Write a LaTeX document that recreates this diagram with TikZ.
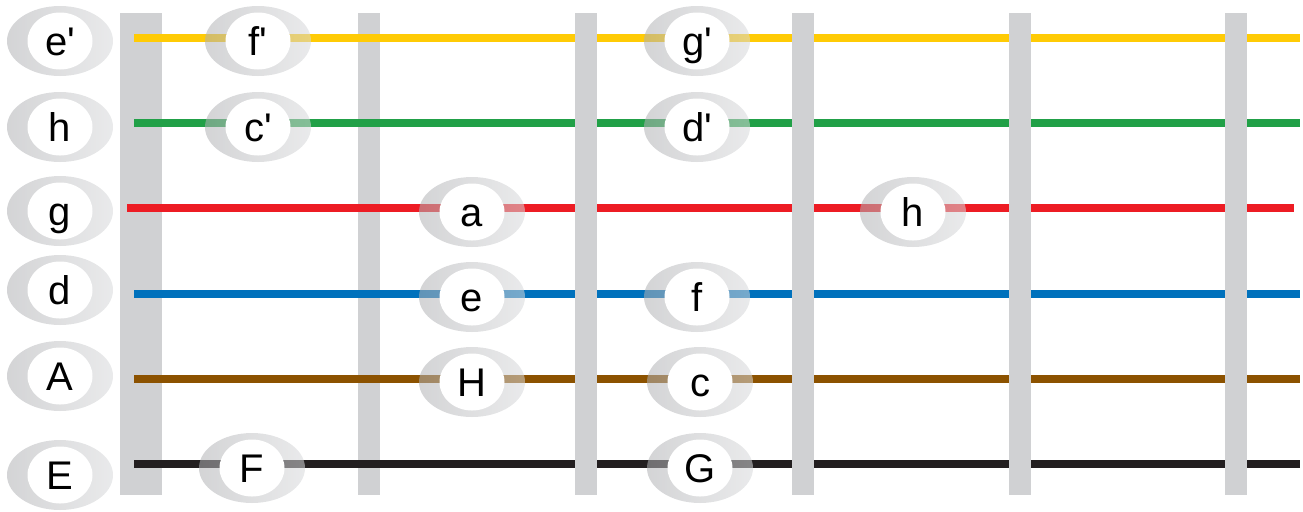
\documentclass[tikz,border=0pt]{standalone}
\usepackage{fontspec}
\setmainfont{Liberation Sans}
\usetikzlibrary{shapes.geometric}

\definecolor{fretgray}{HTML}{D0D1D3}
\definecolor{notedark}{HTML}{B0B1B4}
\definecolor{notelight}{HTML}{D8D9DB}
\definecolor{stryellow}{HTML}{FFCB05}
\definecolor{strgreen}{HTML}{21A047}
\definecolor{strred}{HTML}{ED1C24}
\definecolor{strblue}{HTML}{0071BC}
\definecolor{strbrown}{HTML}{8C5200}
\definecolor{strblack}{HTML}{231F20}

\begin{document}
\begin{tikzpicture}
      [%%%%%%%%%%%%%%%%%%%%%%%%%%%%%%
          x=0.5pt, y=-0.5pt,
          fret/.style={fill=fretgray},
          string/.style={line width=4pt},
          note/.style={ellipse, minimum width=53pt, minimum height=35pt, inner sep=0pt,
              left color=notedark, right color=notelight, fill opacity=.55, text opacity=1,
              path picture={\fill[white,fill opacity=1] (path picture bounding box.center)
                  ellipse (16.25pt and 14.25pt);},
              font=\fontsize{20}{20}\selectfont, text height=14.3pt, text depth=0pt}
      ]%%%%%%%%%%%%%%%%%%%%%%%%%%%%%%

  \useasboundingbox (0,0) rectangle (1303,511);

  % nut and first fret lie under the strings
  \fill[fret] (120,13) rectangle (162,495);
  \fill[fret] (358,13) rectangle (380,495);

  \foreach \y/\col in {38/stryellow,123/strgreen,294/strblue,379/strbrown,464/strblack}
      \draw[string,\col] (134,\y) -- (1300,\y);
  \draw[string,strred] (127,208) -- (1294,208);

  \foreach \x in {575,792,1009,1225}
      \fill[fret] (\x,13) rectangle (\x+22,495);

  % open strings
  \foreach \name/\y/\lab in {oa/41/e\textquotesingle,ob/127/h,oc/211/g,od/290/d,oe/376/A,of/475/E}
      \node[note] (\name) at (60,\y) {\lab};

  % stopped notes
  \foreach \name/\x/\y/\lab in {na1/258/41/f\textquotesingle,na3/697/41/g\textquotesingle,
                                nb1/258/127/c\textquotesingle,nb3/697/127/d\textquotesingle,
                                nc2/472/212/a,nc4/913/212/h,
                                nd2/472/297/e,nd3/697/297/f,
                                ne2/472/382/H,ne3/700/382/c,
                                nf1/252/468/F,nf3/700/468/G}
      \node[note] (\name) at (\x,\y) {\lab};

  \end{tikzpicture}
\end{document}
